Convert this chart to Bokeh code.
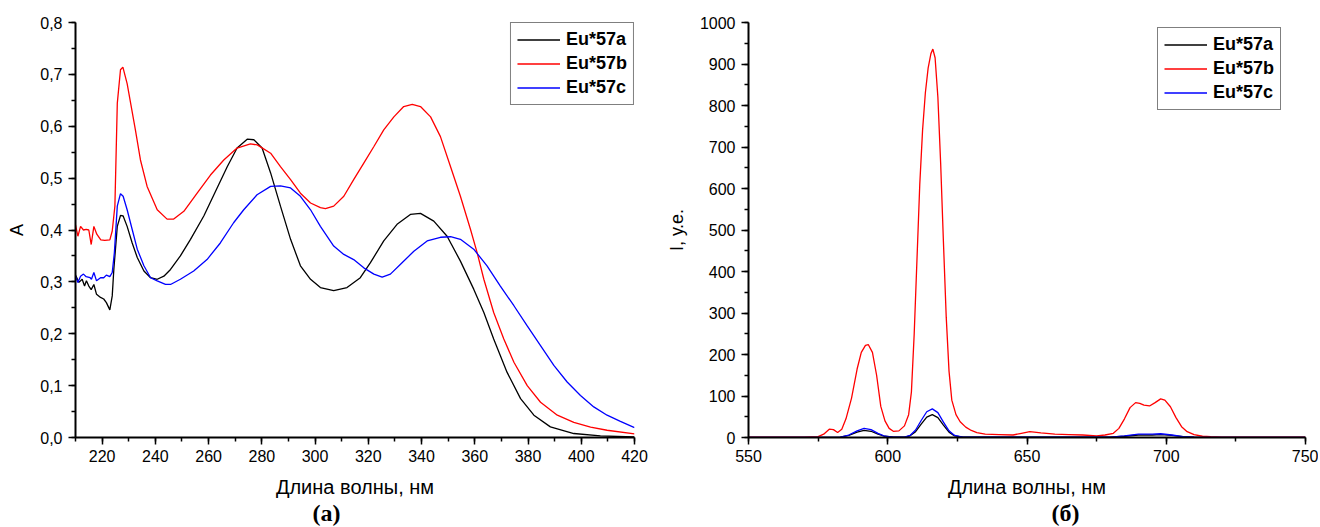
from bokeh.plotting import figure
from bokeh.layouts import row
from bokeh.models import Range1d, SingleIntervalTicker, CustomJSTickFormatter, Title
from bokeh.embed import file_html
from bokeh.resources import INLINE

# ---------------- (а) absorption spectra ----------------
uv_nm_a = [210, 211.3, 212.5, 213.4, 214.1, 215.0, 215.9, 216.9, 217.9, 219.4, 220.6, 221.6,
           222.9, 223.8, 224.4, 225.7, 226.9, 227.9, 229.4, 231.3, 233.2, 235.7, 238.2, 240.7,
           243.2, 245.7, 249.4, 253.2, 258.2, 263.2, 267.0, 270.7, 274.5, 277.0, 280.1, 283.3,
           287.0, 290.8, 294.5, 298.3, 302.0, 307.0, 312.0, 317.0, 320.8, 325.8, 330.8, 335.8,
           339.6, 344.6, 349.6, 354.6, 359.6, 363.4, 367.1, 372.1, 377.2, 382.2, 388.4, 397.2,
           407.2, 420]
uv_a = [0.313, 0.299, 0.305, 0.292, 0.302, 0.292, 0.285, 0.295, 0.276, 0.270, 0.267, 0.260,
        0.246, 0.273, 0.324, 0.407, 0.428, 0.427, 0.407, 0.375, 0.347, 0.321, 0.308, 0.305,
        0.311, 0.324, 0.350, 0.382, 0.427, 0.481, 0.522, 0.558, 0.575, 0.574, 0.558, 0.510,
        0.446, 0.382, 0.331, 0.305, 0.289, 0.283, 0.289, 0.308, 0.337, 0.379, 0.411, 0.430,
        0.432, 0.417, 0.388, 0.340, 0.286, 0.241, 0.190, 0.126, 0.075, 0.043, 0.0205, 0.0077,
        0.003, 0.001]

uv_nm_b = [210, 210.9, 211.9, 213.0, 214.0, 215.0, 215.9, 216.9, 218.0, 219.5, 221.0, 222.9,
           223.8, 224.8, 225.7, 226.9, 227.8, 229.4, 232.5, 234.4, 236.9, 240.7, 244.4, 246.9,
           250.7, 255.7, 260.7, 265.7, 270.7, 275.7, 278.3, 283.3, 287.0, 290.8, 294.5, 298.3,
           302.0, 303.9, 307.0, 310.8, 314.5, 318.3, 322.1, 325.8, 329.6, 333.3, 336.5, 339.6,
           343.4, 347.1, 350.9, 354.6, 358.4, 360.9, 363.4, 367.1, 370.9, 374.7, 379.7, 384.7,
           391.0, 397.2, 403.5, 409.7, 420]
uv_b = [0.410, 0.388, 0.407, 0.400, 0.401, 0.400, 0.372, 0.407, 0.392, 0.381, 0.380, 0.381,
        0.398, 0.446, 0.644, 0.709, 0.714, 0.682, 0.593, 0.535, 0.484, 0.439, 0.421, 0.421,
        0.436, 0.471, 0.506, 0.535, 0.558, 0.566, 0.564, 0.548, 0.522, 0.497, 0.471, 0.452,
        0.443, 0.441, 0.446, 0.465, 0.497, 0.529, 0.561, 0.593, 0.618, 0.638, 0.642, 0.638,
        0.618, 0.580, 0.522, 0.465, 0.401, 0.356, 0.305, 0.241, 0.190, 0.145, 0.100, 0.068,
        0.043, 0.029, 0.020, 0.014, 0.007]

uv_nm_c = [210, 210.9, 211.9, 213.0, 214.0, 215.5, 216.0, 216.9, 217.9, 219.4, 220.6, 221.6,
           222.9, 223.8, 224.6, 225.7, 226.9, 227.9, 229.4, 231.3, 233.2, 235.7, 238.2, 240.7,
           243.8, 245.7, 249.4, 254.4, 259.4, 264.4, 269.4, 273.2, 278.2, 283.3, 287.0, 290.8,
           294.5, 298.3, 302.0, 307.0, 310.8, 314.5, 318.3, 322.1, 325.2, 328.3, 332.1, 337.1,
           342.1, 347.1, 350.9, 354.6, 359.6, 364.6, 369.6, 374.7, 379.7, 384.7, 389.7, 394.7,
           399.7, 404.7, 409.7, 414.7, 420]
uv_c = [0.311, 0.299, 0.311, 0.315, 0.310, 0.308, 0.305, 0.318, 0.302, 0.308, 0.308, 0.313,
        0.310, 0.318, 0.356, 0.446, 0.470, 0.465, 0.439, 0.401, 0.363, 0.331, 0.308, 0.302,
        0.295, 0.295, 0.305, 0.321, 0.343, 0.375, 0.414, 0.439, 0.468, 0.484, 0.485, 0.481,
        0.465, 0.439, 0.407, 0.369, 0.353, 0.343, 0.327, 0.315, 0.309, 0.315, 0.334, 0.359,
        0.379, 0.386, 0.387, 0.382, 0.363, 0.331, 0.292, 0.254, 0.215, 0.177, 0.139, 0.107,
        0.081, 0.059, 0.043, 0.031, 0.019]

# ---------------- (б) luminescence spectra ----------------
pl_nm_a = [550, 580, 583, 586, 589, 591.5, 594, 596.5, 599, 602, 606, 608, 610, 612, 614, 616,
           618, 620, 622, 624, 627, 680, 685, 690, 695, 698, 702, 706, 710, 750]
pl_a = [0, 0, 1, 5, 13, 17, 15, 8, 3, 1, 1, 4, 14, 32, 49, 55, 48, 30, 13, 4, 1, 1, 3, 6, 6,
        7, 5, 2, 1, 0]

pl_nm_b = [550, 560, 570, 575, 577, 579, 580.5, 582, 583.5, 585, 587, 589, 590.5, 592, 593,
           594.5, 596, 597.5, 599, 600.5, 602, 604, 606, 607.5, 608.5, 609.5, 610.5, 611.5,
           612.5, 613.5, 614.5, 615.5, 616.2, 617, 618, 619, 620, 621, 622, 623, 624.5, 626,
           628, 630, 632, 635, 640, 645, 648, 651, 655, 660, 665, 670, 675, 678, 681, 683, 685,
           687, 689, 690.5, 692, 694, 696, 698, 699.5, 701.5, 703.5, 705.5, 707.5, 710, 713,
           716, 720, 750]
pl_b = [1, 1, 1, 2, 8, 20, 19, 12, 20, 45, 95, 165, 205, 222, 224, 205, 150, 75, 40, 22, 15,
        16, 28, 55, 110, 250, 430, 610, 740, 830, 890, 925, 936, 915, 820, 660, 470, 290, 160,
        90, 55, 38, 25, 17, 12, 8, 7, 6, 10, 14, 11, 8, 7, 6, 4, 6, 10, 22, 45, 72, 84, 82, 78,
        76, 84, 93, 90, 74, 48, 26, 14, 7, 3, 2, 1, 1]

pl_nm_c = [550, 580, 583, 586, 589, 591.5, 594, 596.5, 599, 602, 606, 608, 610, 612, 614, 616,
           618, 620, 622, 624, 627, 680, 685, 690, 695, 698, 702, 706, 710, 750]
pl_c = [0, 0, 1, 6, 16, 22, 19, 10, 3, 1, 1, 5, 18, 41, 62, 69, 60, 37, 16, 5, 1, 1, 4, 8, 8,
        9, 6, 2, 1, 0]

series_labels = ["Eu*57a", "Eu*57b", "Eu*57c"]
series_colors = ["#000000", "#ff0000", "#0000ff"]

SANS = "Liberation Sans"
SERIF = "Liberation Serif"


def style(p, xint, yint, yfmt, ylabel):
    p.xaxis.ticker = SingleIntervalTicker(interval=xint, num_minor_ticks=2)
    p.yaxis.ticker = SingleIntervalTicker(interval=yint, num_minor_ticks=2)
    if yfmt:
        p.yaxis.formatter = CustomJSTickFormatter(code="return tick.toFixed(1).replace('.', ',')")
    p.xgrid.visible = False
    p.ygrid.visible = False
    p.outline_line_color = None
    for ax in (p.xaxis[0], p.yaxis[0]):
        ax.axis_line_width = 2
        ax.axis_line_color = "#000000"
        ax.major_tick_line_width = 1.5
        ax.minor_tick_line_width = 1.5
        ax.major_tick_in = 0
        ax.major_tick_out = 7
        ax.minor_tick_in = 0
        ax.minor_tick_out = 4
        ax.major_label_text_font = SANS
        ax.major_label_text_font_size = "16px"
        ax.major_label_text_color = "#000000"
        ax.axis_label_text_font = SANS
        ax.axis_label_text_font_size = "18px"
        ax.axis_label_text_font_style = "normal"
        ax.axis_label_text_color = "#000000"
    p.xaxis.axis_label_text_font_size = "20px"
    p.xaxis.major_label_standoff = 5
    p.yaxis.major_label_standoff = 6
    p.xaxis.axis_label_standoff = 11
    p.yaxis.axis_label_standoff = 10
    p.xaxis.axis_label = "Длина волны, нм"
    p.yaxis.axis_label = ylabel


def legend_style(p, loc):
    lg = p.legend[0]
    lg.location = loc
    lg.margin = 0
    lg.padding = 6
    lg.spacing = 3
    lg.glyph_width = 43
    lg.glyph_height = 21
    lg.label_height = 21
    lg.label_standoff = 6
    lg.label_text_font = SANS
    lg.label_text_font_style = "bold"
    lg.label_text_font_size = "18px"
    lg.label_text_color = "#000000"
    lg.border_line_color = "#000000"
    lg.border_line_width = 1.2
    lg.background_fill_alpha = 1.0


p1 = figure(width=660, height=526, output_backend="svg", toolbar_location=None,
            x_range=Range1d(210, 420), y_range=Range1d(0, 0.8),
            min_border_left=75, min_border_right=26, min_border_top=22, min_border_bottom=87)
for xs, ys, lab, col in zip([uv_nm_a, uv_nm_b, uv_nm_c], [uv_a, uv_b, uv_c],
                            series_labels, series_colors):
    p1.line(xs, ys, line_color=col, line_width=1.3, legend_label=lab)
style(p1, 20, 0.1, True, "A")
legend_style(p1, "top_right")
p1.add_layout(Title(text="(а)", align="left", offset=237, standoff=-5,
                    text_font=SERIF, text_font_style="bold", text_font_size="24px",
                    text_color="#000000"), "below")

p2 = figure(width=658, height=526, output_backend="svg", toolbar_location=None,
            x_range=Range1d(550, 750), y_range=Range1d(0, 1000),
            min_border_left=88, min_border_right=13, min_border_top=22, min_border_bottom=89)
for xs, ys, lab, col in zip([pl_nm_a, pl_nm_b, pl_nm_c], [pl_a, pl_b, pl_c],
                            series_labels, series_colors):
    p2.line(xs, ys, line_color=col, line_width=1.3, legend_label=lab)
style(p2, 50, 100, False, "I, у.е.")
legend_style(p2, (409, 327))
p2.add_layout(Title(text="(б)", align="left", offset=303, standoff=-5,
                    text_font=SERIF, text_font_style="bold", text_font_size="24px",
                    text_color="#000000"), "below")

layout = row(p1, p2)
open("out.html", "w").write(file_html(layout, INLINE))
